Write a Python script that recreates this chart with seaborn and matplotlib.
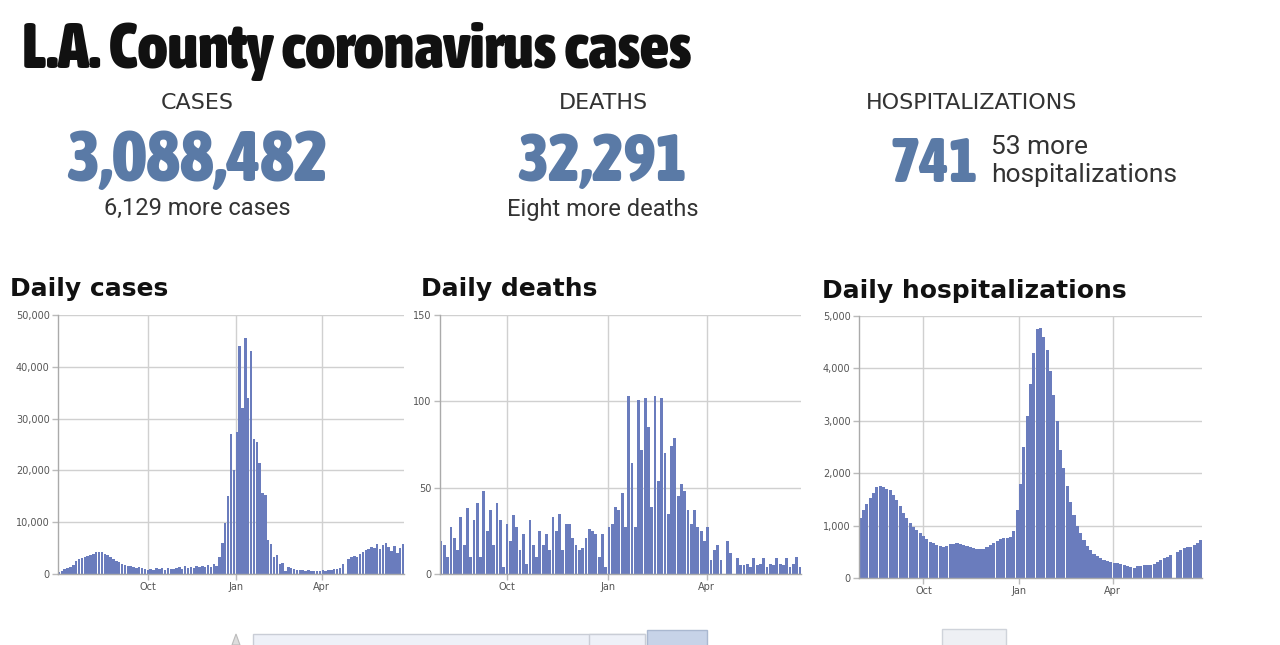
import numpy as np
import pandas as pd
import matplotlib
matplotlib.use("Agg")
import matplotlib.pyplot as plt
import matplotlib.dates as mdates
from matplotlib import font_manager as fm
from matplotlib.patches import Rectangle, Polygon
import seaborn as sns

# ---------------- data ----------------
cases_start = "2021-06-29"          # one value per 3 days
cases = [400, 600, 900, 1200, 1300, 1800, 2500, 2800, 3000, 3300,
         3500, 3700, 3900, 4200, 4300, 4200, 3900, 3700, 3300, 2900,
         2600, 2300, 2000, 1800, 1600, 1500, 1300, 1200, 1300, 1100,
         1000, 800, 1000, 700, 1200, 900, 1100, 800, 1200, 1000,
         900, 1100, 1300, 1000, 1500, 1200, 1400, 1100, 1600, 1300,
         1500, 1400, 1700, 1300, 1900, 1600, 3300, 6000, 9800, 15000,
         27000, 20000, 27500, 44000, 32000, 45500, 34000, 43000, 26000, 25500,
         21500, 15600, 15300, 6500, 5800, 3300, 3700, 2000, 2200, 500,
         1300, 1200, 900, 800, 800, 700, 600, 700, 600, 500,
         600, 600, 700, 600, 800, 700, 900, 1000, 1200, 2000,
         0, 2800, 3200, 3500, 3300, 3800, 4200, 4600, 4900, 5200,
         5000, 5800, 4800, 5600, 6000, 5200, 4500, 5500, 4000, 5000, 5800]

deaths_start = "2021-08-01"         # one value per 3 days
deaths = [19, 17, 10, 27, 21, 14, 33, 17, 38, 10,
          31, 41, 10, 48, 25, 37, 17, 41, 31, 4,
          29, 19, 34, 27, 14, 23, 6, 31, 17, 10,
          25, 17, 23, 14, 33, 25, 35, 14, 29, 29,
          21, 17, 14, 15, 21, 26, 25, 23, 10, 23,
          4, 27, 29, 39, 37, 47, 27, 103, 64, 27,
          101, 72, 102, 85, 39, 103, 54, 102, 70, 35,
          74, 79, 45, 52, 48, 37, 29, 37, 27, 25,
          19, 27, 8, 14, 17, 8, 0, 19, 12, 0,
          9, 5, 5, 6, 4, 9, 5, 6, 9, 4,
          6, 5, 9, 6, 5, 9, 4, 6, 10, 4]

hosp_start, hosp_end = "2021-08-01", "2022-06-25"
hosp = [1150, 1300, 1420, 1520, 1620, 1730, 1760, 1730, 1700, 1680,
        1580, 1480, 1370, 1240, 1150, 1050, 980, 920, 860, 800,
        740, 690, 660, 630, 610, 600, 620, 640, 650, 660,
        640, 630, 620, 600, 570, 550, 550, 560, 590, 630,
        660, 700, 740, 760, 760, 780, 900, 1300, 1800, 2500,
        3100, 3700, 4300, 4750, 4780, 4600, 4350, 3950, 3500, 3000,
        2450, 2100, 1750, 1450, 1200, 1000, 850, 720, 620, 530,
        460, 420, 380, 340, 320, 300, 290, 280, 270, 250,
        230, 210, 200, 220, 230, 240, 240, 250, 260, 300,
        350, 380, 410, 430, 0, 500, 540, 570, 590, 600,
        630, 670, 730]

month_ticks = ["2021-10-01", "2022-01-01", "2022-04-01"]
month_labels = ["Oct", "Jan", "Apr"]

cases_yticks = [0, 10000, 20000, 30000, 40000, 50000]
cases_ylabels = ["0", "10,000", "20,000", "30,000", "40,000", "50,000"]
deaths_yticks = [0, 50, 100, 150]
deaths_ylabels = ["0", "50", "100", "150"]
hosp_yticks = [0, 1000, 2000, 3000, 4000, 5000]
hosp_ylabels = ["0", "1,000", "2,000", "3,000", "4,000", "5,000"]

title = "L.A. County coronavirus cases"
stat_heads = ["CASES", "DEATHS", "HOSPITALIZATIONS"]
stat_values = ["3,088,482", "32,291", "741"]
stat_notes = ["6,129 more cases", "Eight more deaths", "53 more\nhospitalizations"]
panel_titles = ["Daily cases", "Daily deaths", "Daily hospitalizations"]

# ---------------- style ----------------
sns.set_theme(style="white")
plt.rcParams['font.family'] = ['DejaVu Sans']

BAR = "#6a7cbd"
NUM = "#5a7aa6"
GRID = "#d0d0d0"
W, H = 1280, 645

fig = plt.figure(figsize=(12.8, 6.45), dpi=100)
fig.patch.set_facecolor("white")
renderer = fig.canvas.get_renderer()


def fx(x):
    return x / W


def fy(y):
    return 1 - y / H


# pick the most condensed bold face installed, if any
def pick_condensed_bold():
    order = {"ultra-condensed": 0, "extra-condensed": 1, "condensed": 2, "semi-condensed": 3}
    best = None
    for f in fm.fontManager.ttflist:
        st = str(f.stretch)
        try:
            w = int(f.weight)
        except (TypeError, ValueError):
            w = 700 if "bold" in str(f.weight) else 400
        if st in order and w >= 600 and f.style == "normal":
            key = (order[st], -w)
            if best is None or key < best[0]:
                best = (key, f.fname)
    if best is not None:
        return fm.FontProperties(fname=best[1])
    return fm.FontProperties(family="DejaVu Sans", weight="bold")


COND = pick_condensed_bold()
ROBO = ['Roboto', 'DejaVu Sans']


def fit_text(x, y, s, target_w, ha, color, fs0=40):
    t = fig.text(fx(x), fy(y), s, ha=ha, va="baseline", fontproperties=COND.copy(), color=color)
    t.set_fontsize(fs0)
    w = t.get_window_extent(renderer).width
    t.set_fontsize(fs0 * target_w / w)
    return t


# ---------------- headline texts ----------------
fit_text(22, 68, title, 668, "left", "#111111")

fig.text(fx(197), fy(109), stat_heads[0], ha="center", va="baseline", fontsize=16, color="#333333")
fig.text(fx(603), fy(109), stat_heads[1], ha="center", va="baseline", fontsize=16, color="#333333")
fig.text(fx(972), fy(109), stat_heads[2], ha="center", va="baseline", fontsize=16, color="#333333")

fit_text(197, 181, stat_values[0], 262, "center", NUM)
fit_text(602, 181, stat_values[1], 170, "center", NUM)
fit_text(978, 182, stat_values[2], 88, "right", NUM)

fig.text(fx(197), fy(215), stat_notes[0], ha="center", va="baseline", fontsize=17,
         family=ROBO, color="#333333")
fig.text(fx(603), fy(216), stat_notes[1], ha="center", va="baseline", fontsize=17,
         family=ROBO, color="#333333")
note_lines = stat_notes[2].split("\n")
fig.text(fx(991), fy(154), note_lines[0], ha="left", va="baseline", fontsize=19,
         family=ROBO, color="#333333")
fig.text(fx(991), fy(182), note_lines[1], ha="left", va="baseline", fontsize=19,
         family=ROBO, color="#333333")

# ---------------- panels ----------------


def panel(rect, dates, values, xlim, yticks, ylabels, ptitle, title_xy, width):
    l, t, r, b = rect
    ax = fig.add_axes([fx(l), fy(b), (r - l) / W, (b - t) / H])
    df = pd.DataFrame({"x": mdates.date2num(dates), "y": values})
    sns.barplot(data=df, x="x", y="y", native_scale=True, width=width,
                color=BAR, saturation=1, errorbar=None, linewidth=0, ax=ax)
    ax.set_xlim(mdates.date2num(pd.Timestamp(xlim[0])), mdates.date2num(pd.Timestamp(xlim[1])))
    ax.set_ylim(yticks[0], yticks[-1])
    ax.set_yticks(yticks)
    ax.set_yticklabels(ylabels)
    ax.set_xticks(mdates.date2num(pd.to_datetime(month_ticks)))
    ax.set_xticklabels(month_labels)
    ax.set_xlabel("")
    ax.set_ylabel("")
    ax.grid(True, color=GRID, linewidth=1)
    ax.set_axisbelow(True)
    for s in ["top", "right"]:
        ax.spines[s].set_visible(False)
    for s in ["left", "bottom"]:
        ax.spines[s].set_color("#aaaaaa")
        ax.spines[s].set_linewidth(1)
    ax.tick_params(axis="both", bottom=True, left=True, length=4, width=1,
                   color="#bbbbbb", labelsize=7, labelcolor="#555555", pad=2)
    ax.set_facecolor("white")
    fig.text(fx(title_xy[0]), fy(title_xy[1]), ptitle, ha="left", va="baseline",
             fontsize=18, fontweight="bold", color="#111111")
    return ax


case_dates = pd.date_range(cases_start, periods=len(cases), freq="3D") + pd.Timedelta(days=1)
death_dates = pd.date_range(deaths_start, periods=len(deaths), freq="3D") + pd.Timedelta(days=1)
hosp_dates = pd.date_range(hosp_start, hosp_end, periods=len(hosp))

panel((58, 315, 404, 574), case_dates, cases, ("2021-06-29", "2022-06-26"),
      cases_yticks, cases_ylabels, panel_titles[0], (10, 296), 0.85)
panel((440, 315, 801, 574), death_dates, deaths, ("2021-08-01", "2022-06-26"),
      deaths_yticks, deaths_ylabels, panel_titles[1], (421, 296), 0.85)
panel((859, 316, 1202, 578), hosp_dates, hosp, ("2021-07-31", "2022-06-26"),
      hosp_yticks, hosp_ylabels, panel_titles[2], (822, 298), 0.93)

# ---------------- cut-off controls at the bottom ----------------


def rect_px(x0, y0, x1, y1, fc, ec):
    fig.patches.append(Rectangle((fx(x0), fy(y1)), (x1 - x0) / W, (y1 - y0) / H,
                                 transform=fig.transFigure, facecolor=fc, edgecolor=ec,
                                 linewidth=1, figure=fig))


rect_px(253, 634, 645, 648, "#eef1f8", "#c9cdd6")
rect_px(589, 634, 645, 648, "#eef1f8", "#c9cdd6")
rect_px(647, 630, 707, 648, "#c7d3e8", "#aab8d0")
rect_px(942, 629, 1006, 648, "#eef0f4", "#cfd3da")
fig.patches.append(Polygon([(fx(232), fy(645)), (fx(236), fy(634)), (fx(240), fy(645))],
                           closed=True, transform=fig.transFigure, facecolor="#dddddd",
                           edgecolor="#bbbbbb", linewidth=0.8, figure=fig))

fig.savefig("out.png", dpi=100, facecolor="white")
